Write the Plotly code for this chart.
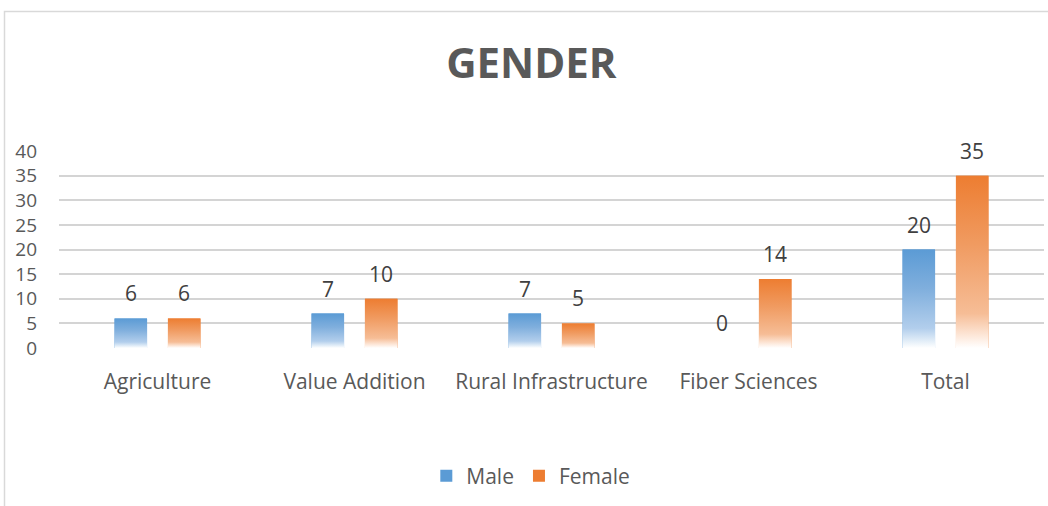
import plotly.graph_objects as go

categories = ["Agriculture", "Value Addition", "Rural Infrastructure", "Fiber Sciences", "Total"]
male = [6, 7, 7, 0, 20]
female = [6, 10, 5, 14, 35]
y_ticks = [0, 5, 10, 15, 20, 25, 30, 35, 40]

BLUE = "#5B9BD5"
ORANGE = "#ED7D31"
blue_scale = [[0, "#FFFFFF"], [0.07, "#E3EEF8"], [0.2, "#B2CEEC"], [0.6, "#80AFDD"], [1, BLUE]]
orange_scale = [[0, "#FFFFFF"], [0.07, "#FDE8DA"], [0.2, "#F6BD96"], [0.6, "#F09B61"], [1, ORANGE]]

W = 0.165
OFF_M = -0.218
OFF_F = 0.053
xs = list(range(len(categories)))
FONT = "Open Sans"

fig = go.Figure()
fig.add_trace(go.Bar(x=xs, y=male, name="Male", marker=dict(color=BLUE, line=dict(width=0)),
                     offset=OFF_M, width=W, hoverinfo="skip"))
fig.add_trace(go.Bar(x=xs, y=female, name="Female", marker=dict(color=ORANGE, line=dict(width=0)),
                     offset=OFF_F, width=W, hoverinfo="skip"))

# gradient overlays derived from the data
for vals, off, scale in [(male, OFF_M, blue_scale), (female, OFF_F, orange_scale)]:
    for i, v in enumerate(vals):
        if v <= 0:
            continue
        x0, x1 = i + off, i + off + W
        fig.add_trace(go.Scatter(
            x=[x0, x1, x1, x0, x0], y=[0, 0, v, v, 0], mode="lines", fill="toself",
            line=dict(width=0), fillgradient=dict(type="vertical", colorscale=scale),
            showlegend=False, hoverinfo="skip"))

# data labels
for vals, off in [(male, OFF_M), (female, OFF_F)]:
    for i, v in enumerate(vals):
        fig.add_annotation(x=i + off + W / 2, y=v, text=str(v), showarrow=False,
                           yanchor="middle", yshift=25,
                           font=dict(family=FONT, size=21, color="#404040"))

fig.update_layout(
    width=1048, height=506,
    margin=dict(l=59, r=4, t=151, b=158),
    paper_bgcolor="white", plot_bgcolor="white",
    barmode="overlay",
    title=dict(text="<b>GENDER</b>", x=0.507, xanchor="center", y=0.874, yanchor="middle",
               font=dict(family=FONT, size=42, color="#595959")),
    font=dict(family=FONT, color="#595959"),
    legend=dict(orientation="h", x=0.479, xanchor="center", y=-0.65, yanchor="middle",
                font=dict(family=FONT, size=21, color="#595959"),
                traceorder="normal", itemwidth=30),
    showlegend=True,
    xaxis=dict(range=[-0.5, 4.5], tickvals=xs, ticktext=categories, showgrid=False,
               zeroline=False, showline=False, ticks="", ticklabelstandoff=19,
               tickfont=dict(family=FONT, size=21, color="#595959")),
    yaxis=dict(range=[0, 40], tickvals=y_ticks, showgrid=True, gridcolor="#D4D4D4",
               gridwidth=1.5, zeroline=False, showline=False, ticks="", ticklabelstandoff=21,
               tickfont=dict(family=FONT, size=19, color="#595959")),
    shapes=[dict(type="rect", xref="paper", yref="paper",
                 x0=(4.5 - 59) / 985, x1=1.2, y0=-1.2, y1=(348 - 11.5) / 197,
                 line=dict(color="#D9D9D9", width=1.5), fillcolor="rgba(0,0,0,0)", layer="below")],
)

fig.write_html("out.html", config={"displayModeBar": False},
               post_script=["document.body.style.margin='0';"])
